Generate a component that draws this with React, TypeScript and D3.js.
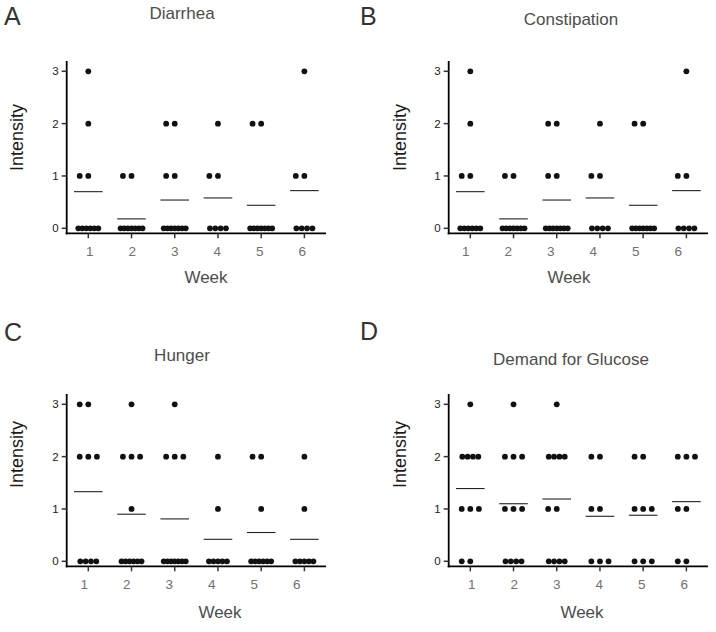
import React from "react";
import * as d3 from "d3";

// ---------- DATA ----------
const weeks = ["1", "2", "3", "4", "5", "6"];
const intensityTicks = [0, 1, 2, 3];
const panelLetters = ["A", "B", "C", "D"];
const panelTitles = ["Diarrhea", "Constipation", "Hunger", "Demand for Glucose"];

// number of patients at intensity 0,1,2,3 for each week
const diarrheaCounts = [[6, 2, 1, 1], [7, 2, 0, 0], [7, 2, 2, 0], [4, 2, 1, 0], [7, 0, 2, 0], [4, 2, 0, 1]];
const constipationCounts = [[6, 2, 1, 1], [7, 2, 0, 0], [7, 2, 2, 0], [4, 2, 1, 0], [7, 0, 2, 0], [4, 2, 0, 1]];
const hungerCounts = [[4, 0, 3, 2], [6, 1, 3, 1], [7, 0, 3, 1], [5, 1, 1, 0], [6, 1, 2, 0], [5, 1, 1, 0]];
const glucoseCounts = [[2, 3, 4, 1], [4, 3, 3, 1], [4, 2, 4, 1], [3, 2, 2, 0], [3, 3, 2, 0], [2, 2, 3, 0]];

// mean intensity per week (horizontal bars)
const diarrheaMeans = [0.7, 0.18, 0.54, 0.58, 0.44, 0.72];
const constipationMeans = [0.7, 0.18, 0.54, 0.58, 0.44, 0.72];
const hungerMeans = [1.33, 0.9, 0.81, 0.42, 0.55, 0.42];
const glucoseMeans = [1.39, 1.1, 1.19, 0.86, 0.88, 1.14];

const allCounts = [diarrheaCounts, constipationCounts, hungerCounts, glucoseCounts];
const allMeans = [diarrheaMeans, constipationMeans, hungerMeans, glucoseMeans];

// ---------- LAYOUT ----------
const W = 716;
const H = 632;
const FONT = "'Liberation Sans', Arial, sans-serif";

const panelLayout = [
  { ox: 0, oy: 0, letter: [4, 25], title: [182, 19], week: [206, 283], labelShift: 1.4 },
  { ox: 382, oy: 0, letter: [360, 25], title: [571, 25], week: [569, 283], labelShift: -4.6 },
  { ox: 0, oy: 333, letter: [4, 341], title: [182, 361], week: [220, 618], labelShift: -4 },
  { ox: 382, oy: 333, letter: [360, 340], title: [571, 365], week: [582, 618], labelShift: 1.4 },
];

function swarmOffsets(n: number): number[] {
  const d = 8.6;
  if (n === 1) return [0];
  if (n === 2) return [-d, 0];
  if (n === 3) return [-d, 0, d];
  const span = 10 + 2 * (n - 1);
  return d3.range(n).map((i) => -span / 2 + (i * span) / (n - 1));
}

function Panel({ idx }: { idx: number }) {
  const L = panelLayout[idx];
  const counts = allCounts[idx];
  const means = allMeans[idx];
  const axisX = 66.7 + L.ox;
  const right = 326 + L.ox;
  const axisY = 233.3 + L.oy;
  const x = d3.scaleBand<string>().domain(weeks).range([axisX, right]);
  const cx = (w: string) => (x(w) as number) + x.bandwidth() / 2;
  const y = d3.scaleLinear().domain([0, 3]).range([228.3 + L.oy, 71.3 + L.oy]);

  const dots: { x: number; y: number; k: string }[] = [];
  weeks.forEach((w, wi) => {
    counts[wi].forEach((n, level) => {
      if (n <= 0) return;
      swarmOffsets(n).forEach((off, j) => {
        dots.push({ x: cx(w) + off, y: y(level), k: `${w}-${level}-${j}` });
      });
    });
  });

  const labelStart = cx(weeks[0]) + L.labelShift;

  return (
    <g>
      <text x={L.letter[0]} y={L.letter[1]} fontSize={25} fill="#333" fontFamily={FONT}>
        {panelLetters[idx]}
      </text>
      <text x={L.title[0]} y={L.title[1]} fontSize={17} fill="#4d4d4d" textAnchor="middle" fontFamily={FONT}>
        {panelTitles[idx]}
      </text>
      {/* y axis */}
      <line x1={axisX} x2={axisX} y1={61 + L.oy} y2={axisY + 1} stroke="#000" strokeWidth={1.8} />
      {intensityTicks.map((t) => (
        <g key={"yt" + t}>
          <line x1={axisX - 5} x2={axisX} y1={y(t)} y2={y(t)} stroke="#333" strokeWidth={1.5} />
          <text x={axisX - 8} y={y(t)} dy="0.35em" fontSize={11.5} fill="#222" textAnchor="end" fontFamily={FONT}>
            {t}
          </text>
        </g>
      ))}
      {/* x axis */}
      <line x1={axisX - 1} x2={right} y1={axisY} y2={axisY} stroke="#000" strokeWidth={1.8} />
      {weeks.map((w, i) => (
        <g key={"xt" + w}>
          <line x1={cx(w)} x2={cx(w)} y1={axisY} y2={axisY + 5} stroke="#333" strokeWidth={1.5} />
          <text x={labelStart + i * 42.5} y={axisY + 23} fontSize={13.5} fill="#707070" textAnchor="middle" fontFamily={FONT}>
            {w}
          </text>
        </g>
      ))}
      <text x={L.week[0]} y={L.week[1]} fontSize={17} fill="#4d4d4d" textAnchor="middle" fontFamily={FONT}>
        Week
      </text>
      <text
        transform={`translate(${16.7 + L.ox + (idx % 2 === 1 ? 1 : 0)},${137.5 + L.oy + (idx >= 2 ? -16 : 0)}) rotate(-90)`}
        fontSize={18}
        fill="#1a1a1a"
        textAnchor="middle"
        dy="0.35em"
        fontFamily={FONT}
      >
        Intensity
      </text>
      {dots.map((p) => (
        <circle key={p.k} cx={p.x} cy={p.y} r={2.9} fill="#111" />
      ))}
      {weeks.map((w, i) => (
        <line
          key={"m" + w}
          x1={cx(w) - 14.3}
          x2={cx(w) + 14.3}
          y1={y(means[i])}
          y2={y(means[i])}
          stroke="#222"
          strokeWidth={1.1}
        />
      ))}
    </g>
  );
}

export default function App() {
  return (
    <svg
      width={W}
      height={H}
      style={{ position: "absolute", left: 0, top: 0, background: "#fff" }}
    >
      <rect width={W} height={H} fill="#fff" />
      {[0, 1, 2, 3].map((i) => (
        <Panel key={i} idx={i} />
      ))}
    </svg>
  );
}
